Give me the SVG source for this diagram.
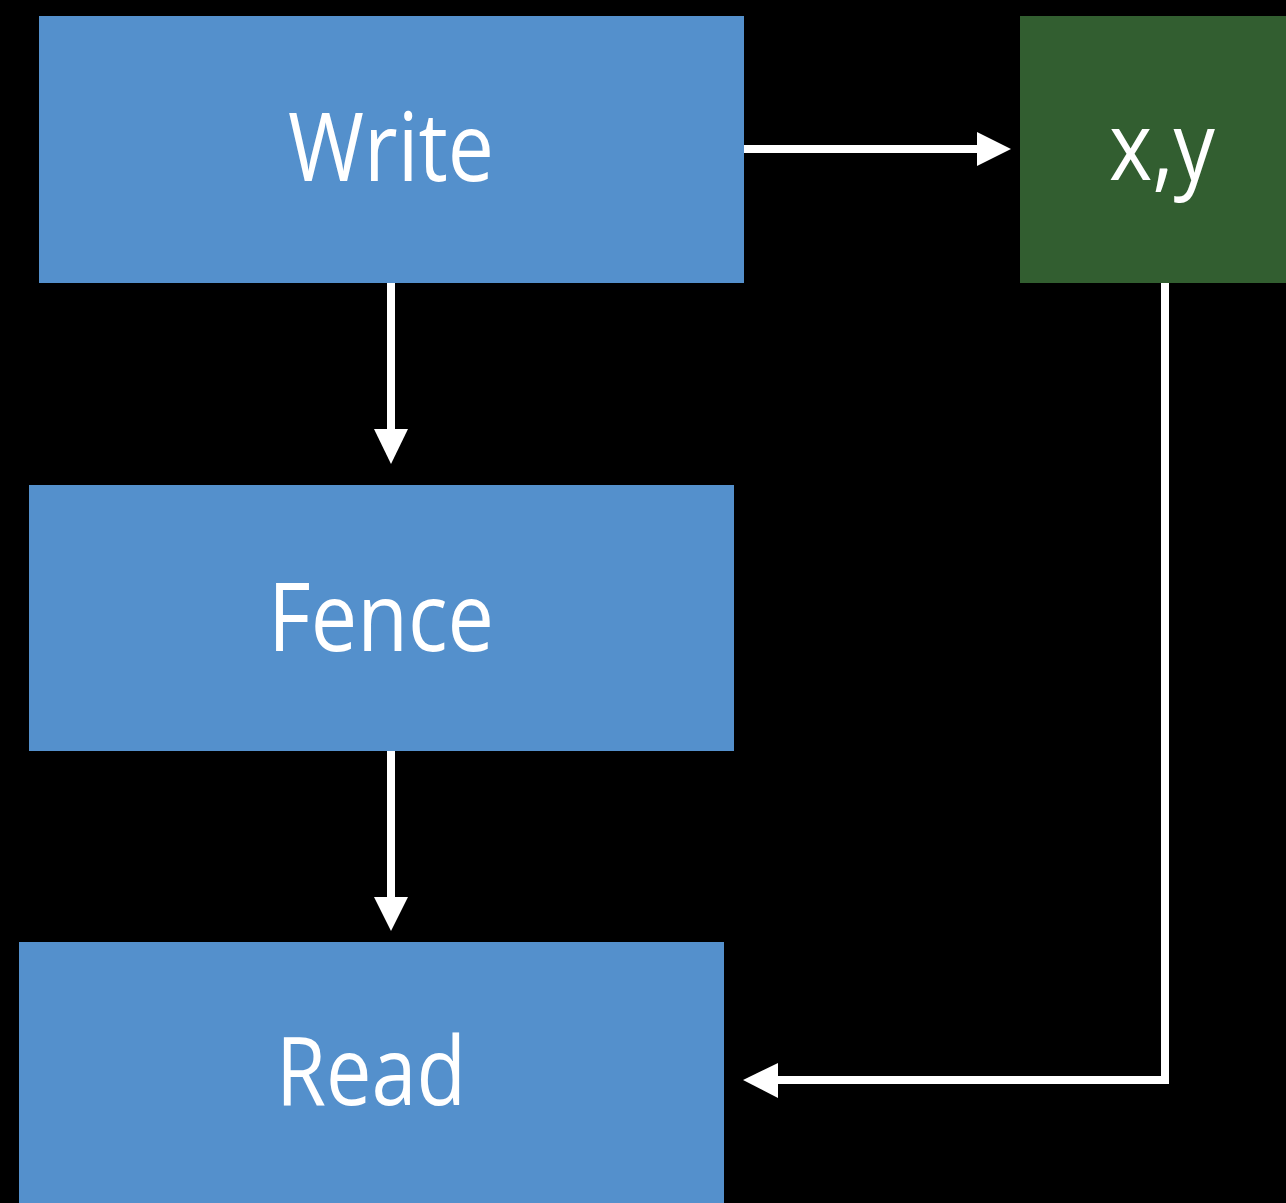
<svg xmlns="http://www.w3.org/2000/svg" width="1286" height="1203" viewBox="0 0 1286 1203">
  <style>
    .step { fill: #5490CC; }
    .data { fill: #325E30; }
    .label { fill: #FFFFFF; font-family: "Open Sans", "Noto Sans", "Liberation Sans", sans-serif; font-size: 95px; text-anchor: middle; }
    .wire { fill: none; stroke: #FFFFFF; stroke-width: 8; stroke-linejoin: miter; }
    .head { fill: #FFFFFF; }
  </style>
  <rect width="1286" height="1203" fill="#000000"/>

  <g id="write">
    <rect class="step" x="39" y="16" width="705" height="267"/>
    <text class="label" x="391" y="181" textLength="206" lengthAdjust="spacingAndGlyphs">Write</text>
  </g>
  <g id="xy">
    <rect class="data" x="1020" y="16" width="266" height="267"/>
    <text class="label" x="1162" y="180" textLength="106" lengthAdjust="spacingAndGlyphs">x,y</text>
  </g>
  <g id="fence">
    <rect class="step" x="29" y="485" width="705" height="266"/>
    <text class="label" x="381" y="651" textLength="226" lengthAdjust="spacingAndGlyphs">Fence</text>
  </g>
  <g id="read">
    <rect class="step" x="19" y="942" width="705" height="261"/>
    <text class="label" x="371" y="1105" textLength="190" lengthAdjust="spacingAndGlyphs">Read</text>
  </g>

  <g id="connectors">
    <!-- Write -> x,y -->
    <path class="wire" d="M744 149 H978"/>
    <polygon class="head" points="977,132 1011,149 977,166"/>
    <!-- Write -> Fence -->
    <path class="wire" d="M391 283 V430"/>
    <polygon class="head" points="374,429 408,429 391,464"/>
    <!-- Fence -> Read -->
    <path class="wire" d="M391 751 V898"/>
    <polygon class="head" points="374,897 408,897 391,931"/>
    <!-- x,y -> Read -->
    <path class="wire" d="M1165 283 V1080 H777"/>
    <polygon class="head" points="778,1063 743,1080 778,1098"/>
  </g>
</svg>
